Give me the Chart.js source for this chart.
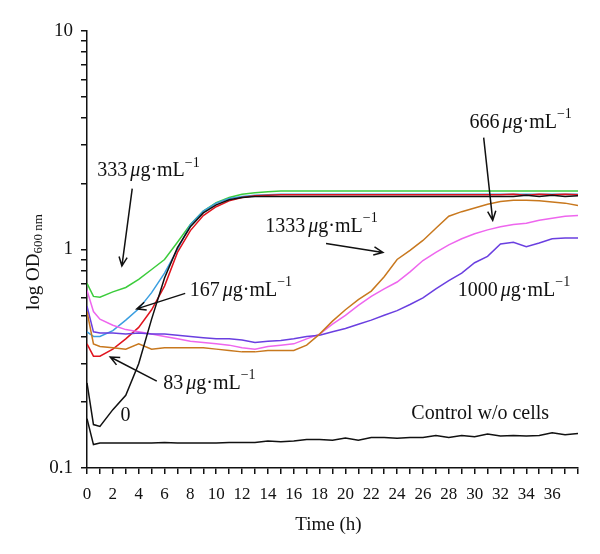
<!DOCTYPE html>
<html lang="en">
<head>
    <meta charset="UTF-8">
    <title>log OD600 growth curves</title>
    <style>
        body { margin: 0; background: #fff; }
        #wrap { width: 600px; height: 554px; }
    </style>
    <script src="https://cdn.jsdelivr.net/npm/chart.js"></script>
</head>
<body>
    <div id="wrap"><canvas id="growthChart" width="600" height="554"></canvas></div>

    <script>
        // time points (h)
        const hours = [0, 0.5, 1, 2, 3, 4, 5, 6, 7, 8, 9, 10, 11, 12, 13, 14, 15, 16, 17, 18, 19,
            20, 21, 22, 23, 24, 25, 26, 27, 28, 29, 30, 31, 32, 33, 34, 35, 36, 37, 38];

        // OD600 per concentration
        const od0 = [0.245, 0.158, 0.155, 0.185, 0.215, 0.30, 0.48, 0.74, 1.02, 1.27, 1.47, 1.60, 1.69, 1.73, 1.75, 1.75, 1.75, 1.75, 1.75, 1.75,
            1.75, 1.75, 1.75, 1.75, 1.75, 1.75, 1.75, 1.75, 1.75, 1.75, 1.75, 1.75, 1.75, 1.75, 1.75, 1.77, 1.75, 1.77, 1.75, 1.76];
        const od83 = [0.37, 0.325, 0.325, 0.35, 0.39, 0.44, 0.53, 0.68, 0.97, 1.22, 1.43, 1.57, 1.67, 1.73, 1.76, 1.77, 1.78, 1.78, 1.78, 1.78,
            1.78, 1.78, 1.78, 1.78, 1.78, 1.78, 1.78, 1.78, 1.78, 1.78, 1.78, 1.78, 1.78, 1.78, 1.79, 1.77, 1.79, 1.78, 1.79, 1.78];
        const od167 = [0.42, 0.40, 0.40, 0.425, 0.475, 0.535, 0.635, 0.78, 1.0, 1.30, 1.50, 1.63, 1.71, 1.75, 1.77, 1.78, 1.79, 1.79, 1.79, 1.79,
            1.79, 1.79, 1.79, 1.79, 1.79, 1.79, 1.79, 1.79, 1.79, 1.79, 1.79, 1.79, 1.79, 1.79, 1.79, 1.79, 1.79, 1.79, 1.79, 1.79];
        const od333 = [0.70, 0.61, 0.605, 0.64, 0.67, 0.73, 0.81, 0.90, 1.08, 1.30, 1.50, 1.64, 1.73, 1.79, 1.82, 1.84, 1.85, 1.85, 1.85, 1.85,
            1.85, 1.85, 1.85, 1.85, 1.85, 1.85, 1.85, 1.85, 1.85, 1.85, 1.85, 1.85, 1.85, 1.85, 1.85, 1.85, 1.85, 1.85, 1.85, 1.85];
        const od666 = [0.65, 0.52, 0.48, 0.45, 0.43, 0.42, 0.41, 0.40, 0.39, 0.38, 0.375, 0.37, 0.365, 0.355, 0.35, 0.36, 0.365, 0.37, 0.39, 0.41,
            0.455, 0.50, 0.555, 0.61, 0.66, 0.71, 0.79, 0.89, 0.97, 1.05, 1.12, 1.18, 1.23, 1.27, 1.30, 1.32, 1.36, 1.39, 1.42, 1.43];
        const od1000 = [0.55, 0.42, 0.415, 0.415, 0.41, 0.415, 0.41, 0.41, 0.405, 0.40, 0.395, 0.39, 0.39, 0.385, 0.375, 0.38, 0.383, 0.39, 0.40, 0.405,
            0.42, 0.435, 0.455, 0.475, 0.50, 0.525, 0.56, 0.60, 0.66, 0.72, 0.78, 0.87, 0.93, 1.06, 1.08, 1.03, 1.07, 1.12, 1.13, 1.13];
        const od1333 = [0.52, 0.37, 0.36, 0.355, 0.35, 0.37, 0.35, 0.355, 0.355, 0.355, 0.355, 0.35, 0.345, 0.34, 0.34, 0.345, 0.345, 0.345, 0.365, 0.41,
            0.47, 0.53, 0.59, 0.645, 0.75, 0.90, 0.99, 1.10, 1.25, 1.42, 1.49, 1.55, 1.61, 1.66, 1.68, 1.68, 1.67, 1.65, 1.63, 1.59];
        const odControl = [0.168, 0.128, 0.13, 0.13, 0.13, 0.13, 0.13, 0.131, 0.13, 0.13, 0.13, 0.13, 0.131, 0.131, 0.131, 0.133, 0.132, 0.133, 0.135, 0.135,
            0.134, 0.137, 0.134, 0.138, 0.138, 0.137, 0.138, 0.138, 0.141, 0.138, 0.141, 0.139, 0.143, 0.14, 0.141, 0.14, 0.141, 0.145, 0.142, 0.144];

        const yTicks = [0.1, 0.2, 0.3, 0.4, 0.5, 0.6, 0.7, 0.8, 0.9, 1, 2, 3, 4, 5, 6, 7, 8, 9, 10];
        const yLabels = [0.1, 1, 10];

        const serif = "'Liberation Serif', 'DejaVu Serif', serif";

        function pts(values) {
            return values.map((v, i) => ({ x: hours[i], y: v }));
        }

        // annotation labels placed in data units; arrows go [from t, from OD, to t, to OD]
        const notes = [
            { num: '333', t: 0.8, od: 2.29, arrow: [3.5, 1.9, 2.7, 0.84] },
            { num: '167', t: 7.95, od: 0.65, arrow: [7.6, 0.63, 3.85, 0.535] },
            { num: '83', t: 5.9, od: 0.244, arrow: [5.4, 0.25, 1.8, 0.322] },
            { num: '1333', t: 13.8, od: 1.27, arrow: [18.5, 1.065, 22.9, 0.97] },
            { num: '666', t: 29.6, od: 3.8, arrow: [30.7, 3.25, 31.4, 1.36] },
            { num: '1000', t: 28.7, od: 0.65, arrow: null }
        ];
        const plainNotes = [
            { text: '0', t: 2.6, od: 0.173 },
            { text: 'Control w/o cells', t: 25.1, od: 0.177 }
        ];

        function drawArrow(ctx, x1, y1, x2, y2) {
            const a = Math.atan2(y2 - y1, x2 - x1);
            const len = 10, spread = 0.42;
            ctx.beginPath();
            ctx.moveTo(x1, y1);
            ctx.lineTo(x2, y2);
            ctx.moveTo(x2 - len * Math.cos(a - spread), y2 - len * Math.sin(a - spread));
            ctx.lineTo(x2, y2);
            ctx.lineTo(x2 - len * Math.cos(a + spread), y2 - len * Math.sin(a + spread));
            ctx.stroke();
        }

        function drawUnit(ctx, num, x, y) {
            ctx.textBaseline = 'middle';
            ctx.textAlign = 'left';
            ctx.font = '20px ' + serif;
            ctx.fillText(num + ' ', x, y);
            x += ctx.measureText(num + ' ').width - 2;
            ctx.font = 'italic 20px ' + serif;
            ctx.fillText('\u03bc', x, y);
            x += ctx.measureText('\u03bc').width;
            ctx.font = '20px ' + serif;
            ctx.fillText('g\u00b7mL', x, y);
            x += ctx.measureText('g\u00b7mL').width;
            ctx.font = '14px ' + serif;
            ctx.fillText('\u22121', x, y - 8);
        }

        const annotate = {
            id: 'annotate',
            afterDraw(chart) {
                const { ctx, scales } = chart;
                const xs = scales.x, ys = scales.y;
                ctx.save();
                ctx.fillStyle = '#111';
                ctx.strokeStyle = '#111';
                ctx.lineWidth = 1.5;
                notes.forEach(n => {
                    drawUnit(ctx, n.num, xs.getPixelForValue(n.t), ys.getPixelForValue(n.od));
                    if (n.arrow) {
                        drawArrow(ctx, xs.getPixelForValue(n.arrow[0]), ys.getPixelForValue(n.arrow[1]),
                            xs.getPixelForValue(n.arrow[2]), ys.getPixelForValue(n.arrow[3]));
                    }
                });
                ctx.font = '20px ' + serif;
                ctx.textBaseline = 'middle';
                ctx.textAlign = 'left';
                plainNotes.forEach(n => {
                    ctx.fillText(n.text, xs.getPixelForValue(n.t), ys.getPixelForValue(n.od));
                });

                // axis titles
                ctx.textAlign = 'center';
                ctx.font = '19px ' + serif;
                ctx.fillText('Time (h)', (xs.left + xs.right) / 2 - 4, 525);

                ctx.translate(34, 262);
                ctx.rotate(-Math.PI / 2);
                ctx.textAlign = 'left';
                const main = 'log OD';
                ctx.font = '13px ' + serif;
                const subW = ctx.measureText('600 nm').width;
                ctx.font = '19px ' + serif;
                const mainW = ctx.measureText(main).width;
                const start = -(mainW + subW) / 2;
                ctx.fillText(main, start, 0);
                ctx.font = '13px ' + serif;
                ctx.fillText('600 nm', start + mainW, 5);
                ctx.restore();
            }
        };

        const series = [
            { data: odControl, color: '#111111' },
            { data: od0, color: '#111111' },
            { data: od1333, color: '#c8781e' },
            { data: od1000, color: '#6a3fe0' },
            { data: od666, color: '#ee66ee' },
            { data: od83, color: '#e0141e' },
            { data: od167, color: '#3a9ee0' },
            { data: od333, color: '#3ccc3c' }
        ];

        new Chart(document.getElementById('growthChart').getContext('2d'), {
            type: 'line',
            data: {
                datasets: series.map(s => ({
                    data: pts(s.data),
                    borderColor: s.color,
                    borderWidth: 1.5,
                    pointRadius: 0,
                    fill: false,
                    tension: 0
                }))
            },
            options: {
                responsive: false,
                animation: false,
                layout: { padding: { top: 31, right: 22, left: 0, bottom: 0 } },
                plugins: { legend: { display: false }, tooltip: { enabled: false } },
                scales: {
                    x: {
                        type: 'linear',
                        min: 0,
                        max: 38,
                        afterFit(scale) { scale.height = 86; },
                        ticks: {
                            stepSize: 1,
                            autoSkip: false,
                            maxRotation: 0,
                            color: '#111',
                            padding: 10,
                            font: { family: serif, size: 17 },
                            callback: v => (v % 2 === 0 && v < 38) ? String(v) : ''
                        },
                        grid: { drawOnChartArea: false, tickLength: 6, color: '#111', lineWidth: 1.5 },
                        border: { color: '#111', width: 1.5 }
                    },
                    y: {
                        type: 'logarithmic',
                        min: 0.1,
                        max: 10,
                        afterFit(scale) { scale.width = 87; },
                        afterBuildTicks(scale) { scale.ticks = yTicks.map(v => ({ value: v })); },
                        ticks: {
                            autoSkip: false,
                            color: '#111',
                            padding: 8,
                            font: { family: serif, size: 19 },
                            callback: v => yLabels.includes(v) ? String(v) : ''
                        },
                        grid: { drawOnChartArea: false, tickLength: 6, color: '#111', lineWidth: 1.5 },
                        border: { color: '#111', width: 1.5 }
                    }
                }
            },
            plugins: [annotate]
        });
    </script>
</body>
</html>
